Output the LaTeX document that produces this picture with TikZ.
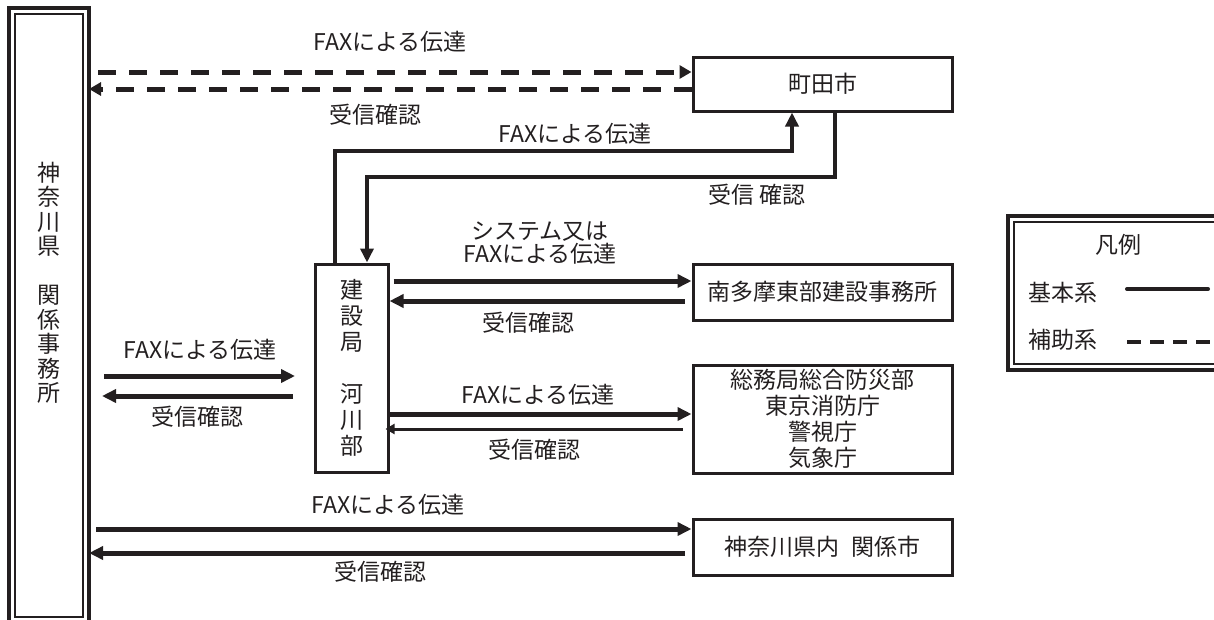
\documentclass[tikz,border=0pt]{standalone}
\usepackage{fontspec}
\setmainfont{Noto Sans CJK JP}
\usetikzlibrary{arrows.meta}
\definecolor{ink}{HTML}{231F20}
\tikzset{
  box/.style={draw=ink, line width=3pt, minimum width=259pt, inner sep=0pt, align=center, text=ink},
  lbl/.style={text=ink, inner sep=0pt, align=center},
  main/.style={draw=ink, line width=5pt, -{Triangle[length=14pt,width=13pt]}},
  sub/.style={draw=ink, line width=3pt, -{Triangle[length=9pt,width=10pt]}},
  loopflow/.style={draw=ink, line width=4pt, -{Triangle[length=14pt,width=13pt]}},
  aux/.style={draw=ink, line width=5pt, dash pattern=on 18pt off 13pt, -{Triangle[length=12pt,width=13pt]}},
}

\begin{document}
\begin{tikzpicture}[x=1pt,y=-1pt,font=\fontsize{23}{25}\selectfont]
  \useasboundingbox (0,0) rectangle (1214,619);
  \clip (0,0) rectangle (1214,619);
  % prefecture office column
  \node (pref) [draw=ink, line width=2pt, minimum width=68pt, minimum height=603pt] at (49,315.5) {};
  \draw[ink, line width=3.5pt] ([shift={(-5pt,5pt)}]pref.north west) rectangle ([shift={(5pt,-5pt)}]pref.south east);
  \node (preftext) [lbl, font=\fontsize{23}{24.5}\selectfont] at (49,283) {神\\奈\\川\\県\\[24.5pt]関\\係\\事\\務\\所};
  % receiving offices
  \node (machida) [box, minimum height=54pt] at (822.5,84) {町田市};
  \node (minami) [box, minimum height=56pt] at (822.5,292) {南多摩東部建設事務所};
  \node (somu) [box, minimum height=108pt, font=\fontsize{23}{26}\selectfont] at (822.5,419) {総務局総合防災部\\東京消防庁\\警視庁\\気象庁};
  \node (kanagawa) [box, minimum height=56pt] at (822.5,547) {神奈川県内\hspace{12pt}関係市};
  \node (kensetsu) [draw=ink, line width=3pt, minimum width=73pt, minimum height=208pt, inner sep=0pt, align=center, text=ink, font=\fontsize{23}{26}\selectfont] at (351.5,368) {建\\設\\局\\[26pt]河\\川\\部};
  % legend
  \node (legend) [draw=ink, line width=2pt, minimum width=211pt, minimum height=142pt, anchor=north west] at (1013,221) {};
  \draw[ink, line width=3.5pt] ([shift={(-5pt,5pt)}]legend.north west) rectangle ([shift={(5pt,-5pt)}]legend.south east);
  \node (legtitle) [lbl] at (1118,245) {凡例};
  \node (legmain) [lbl] at (1063,293) {基本系};
  \node (legsub) [lbl] at (1063,340) {補助系};
  \draw[ink, line width=4pt, line cap=round] (1127,289) -- (1208,289);
  \draw[ink, line width=4pt, dash pattern=on 14pt off 9pt] (1127,342) -- (1230,342);

  % Machida (auxiliary)
  \draw[aux] ([xshift=14pt,yshift=12pt]machida.west -| pref.east) -- ([yshift=12pt]machida.west);
  \draw[aux] ([yshift=-5pt]machida.west) -- ([xshift=5pt,yshift=-5pt]machida.west -| pref.east);
  \node (faxtop) [lbl] at (390,42) {FAXによる伝達};
  \node (acktop) [lbl] at (375,115) {受信確認};
  \draw[loopflow] ([xshift=-16.5pt]kensetsu.north) -- ++(0,-112) -| ([xshift=-30.5pt]machida.south);
  \draw[loopflow] ([xshift=12.5pt]machida.south) -- ++(0,64) -| ([xshift=15.5pt]kensetsu.north);
  \node (faxloop) [lbl] at (575,134) {FAXによる伝達};
  \node (ackloop) [lbl] at (757,195) {受信\hspace{5pt}確認};

  % Minami-Tama
  \draw[main] ([xshift=4pt,yshift=11pt]minami.west -| kensetsu.east) -- ([yshift=11pt]minami.west);
  \draw[main] ([xshift=-7pt,yshift=-9pt]minami.west) -- ([yshift=-9pt]minami.west -| kensetsu.east);
  \node (faxminami) [lbl, font=\fontsize{23}{23}\selectfont] at (540,243) {システム又は\\FAXによる伝達};
  \node (ackminami) [lbl] at (528,323) {受信確認};

  % Soumu etc.
  \draw[main] ([yshift=5pt]somu.west -| kensetsu.east) -- ([yshift=5pt]somu.west);
  \draw[sub] ([xshift=-9pt,yshift=-10pt]somu.west) -- ([xshift=-4pt,yshift=-10pt]somu.west -| kensetsu.east);
  \node (faxsomu) [lbl] at (538,395) {FAXによる伝達};
  \node (acksomu) [lbl] at (534,450) {受信確認};

  % Kanagawa cities
  \draw[main] ([xshift=12pt,yshift=18pt]kanagawa.west -| pref.east) -- ([yshift=18pt]kanagawa.west);
  \draw[main] ([xshift=-7pt,yshift=-6pt]kanagawa.west) -- ([xshift=5pt,yshift=-6pt]kanagawa.west -| pref.east);
  \node (faxkanagawa) [lbl] at (388,505) {FAXによる伝達};
  \node (ackkanagawa) [lbl] at (380,572) {受信確認};

  % prefecture <-> construction bureau
  \coordinate (fwdfrom) at (104,376);
  \coordinate (fwdto) at (295,376);
  \coordinate (ackfrom) at (293,396);
  \coordinate (ackto) at (102,396);
  \draw[main] (fwdfrom) -- (fwdto);
  \draw[main] (ackfrom) -- (ackto);
  \node (faxpref) [lbl] at (200,350) {FAXによる伝達};
  \node (ackpref) [lbl] at (197,417) {受信確認};
\end{tikzpicture}
\end{document}
